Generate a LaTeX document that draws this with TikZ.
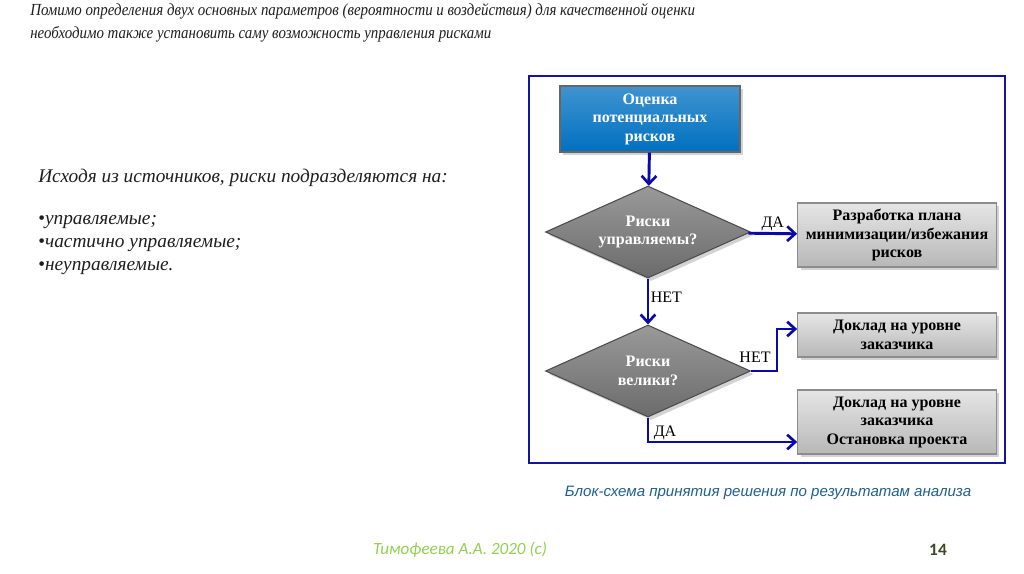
\documentclass[tikz,border=0pt]{standalone}
\usepackage{fontspec}
\setmainfont{Liberation Serif}
\newfontfamily\headfont[FakeStretch=0.88]{Liberation Serif}
\newfontfamily\capfont{Liberation Sans}
\newfontfamily\footfont{Carlito}
\usetikzlibrary{shapes.geometric,arrows.meta,shadows}

\definecolor{frameblue}{RGB}{20,20,160}
\definecolor{arrowblue}{RGB}{10,10,170}
\definecolor{boxblue}{RGB}{0,112,192}
\definecolor{captionblue}{RGB}{31,95,140}
\definecolor{footgreen}{RGB}{146,208,80}
\definecolor{numgreen}{RGB}{60,70,40}
\definecolor{textgray}{RGB}{30,30,30}

\begin{document}
\begin{tikzpicture}[x=0.75pt,y=-0.75pt,
    bodytext/.style={anchor=west,inner sep=0pt,text=textgray,font=\fontsize{14.5}{17}\selectfont\itshape},
    headtext/.style={bodytext,font=\headfont\fontsize{12.7}{15}\selectfont\itshape},
    topbox/.style={rectangle,draw=black!60,thick,top color=boxblue!75!white,bottom color=boxblue,
        minimum width=135pt,minimum height=49.5pt,align=center,text=white,
        font=\fontsize{12}{13.9}\selectfont\bfseries,drop shadow={opacity=0.35}},
    decision/.style={diamond,draw=black!70,thick,top color=black!40,bottom color=black!58,
        minimum width=153.75pt,minimum height=69pt,aspect=2.2,inner sep=0pt,align=center,text=white,
        font=\fontsize{12}{13.9}\selectfont\bfseries,drop shadow={opacity=0.35}},
    resultbox/.style={rectangle,draw=black!45,thick,top color=black!10,bottom color=black!28,
        minimum width=149pt,align=center,text=black,
        font=\fontsize{12}{13.9}\selectfont\bfseries,drop shadow={opacity=0.35}},
    flow/.style={arrowblue,line width=2.2pt,-{Straight Barb[length=6pt,width=11pt,line width=2pt]}},
    answer/.style={font=\fontsize{12}{14}\selectfont,text=black,inner sep=1pt}]
\useasboundingbox (0,0) rectangle (1024,574);

% text on the left
\node[headtext] (T1) at (30,11) {Помимо определения двух основных параметров (вероятности и воздействия) для качественной оценки};
\node[headtext] (T2) at (30,34) {необходимо также установить саму возможность управления рисками};
\node[bodytext] (L0) at (38,178) {Исходя из источников, риски подразделяются на:};
\node[bodytext] (L1) at (38,222) {{\upshape\textbullet}управляемые;};
\node[bodytext] (L2) at (38,245) {{\upshape\textbullet}частично управляемые;};
\node[bodytext] (L3) at (38,268) {{\upshape\textbullet}неуправляемые.};

% frame
\draw[frameblue,line width=2.2pt] (529,76) rectangle (1005,463);

% flowchart
\node[topbox] (A) at (650,119) {Оценка\\потенциальных\\рисков};
\node[decision] (B) at (648,232) {Риски\\управляемы?};
\node[resultbox,minimum height=48pt] (C) at (897,235) {Разработка плана\\минимизации/избежания\\рисков};
\node[decision] (D) at (648,371) {Риски\\велики?};
\node[resultbox,minimum height=33pt] (E) at (897,335) {Доклад на уровне\\заказчика};
\node[resultbox,minimum height=48pt] (F) at (897,422) {Доклад на уровне\\заказчика\\Остановка проекта};

\draw[flow] (A) -- (B);
\draw[flow] (B) -- node[answer,above] {ДА} (C);
\draw[flow] (B) -- node[answer,right,pos=0.4] {НЕТ} (D);
\draw[flow] (D.east) -| (777,329) -- (E.west |- 0,329);
\node[answer] (N) at (755,357) {НЕТ};
\draw[flow] (D.south) |- (F.west |- 0,442);
\node[answer] (Y) at (665,433) {ДА};

% captions
\node[inner sep=0pt,text=captionblue,font=\capfont\fontsize{11.3}{13}\selectfont\itshape] (cap) at (768,493) {Блок-схема принятия решения по результатам анализа};
\node[inner sep=0pt,text=footgreen,font=\footfont\fontsize{12.8}{15}\selectfont\itshape] (foot) at (460,550) {Тимофеева А.А. 2020 (с)};
\node[inner sep=0pt,text=numgreen,font=\footfont\fontsize{13}{15}\selectfont\bfseries] (num) at (938,550) {14};
\end{tikzpicture}
\end{document}
